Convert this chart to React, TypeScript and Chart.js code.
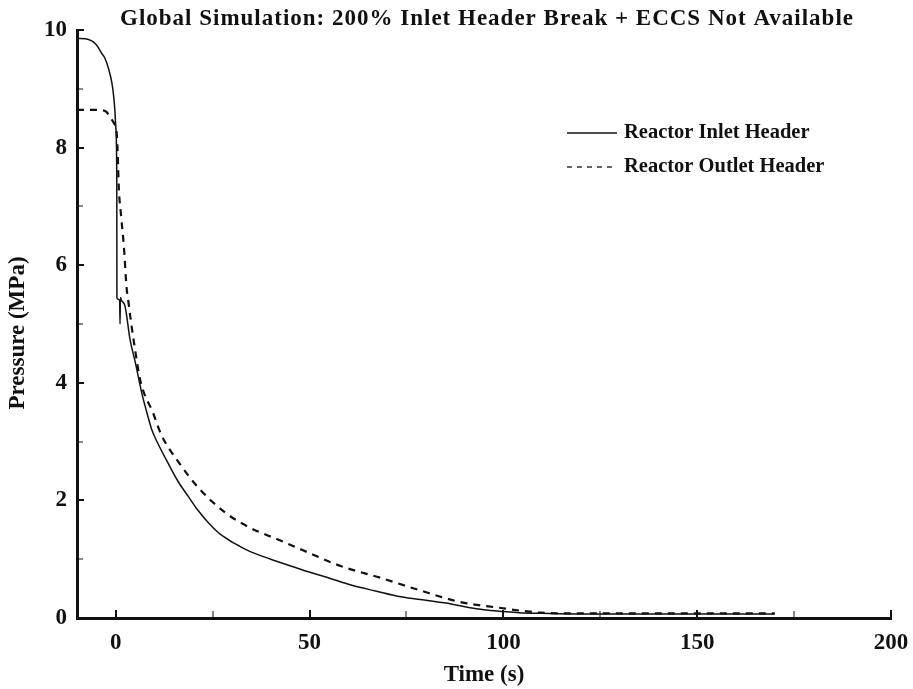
import React, { useEffect, useRef } from "react";
import { Chart, registerables } from "chart.js";

Chart.register(...registerables);

const chartTitle = "Global Simulation: 200% Inlet Header Break + ECCS Not Available";
const xAxisTitle = "Time (s)";
const yAxisTitle = "Pressure (MPa)";
const seriesNames = ["Reactor Inlet Header", "Reactor Outlet Header"];

const xTickValues = [0, 50, 100, 150, 200];
const xMinorTickValues = [25, 75, 125, 175];
const yTickValues = [0, 2, 4, 6, 8, 10];
const yMinorTickValues = [1, 3, 5, 7, 9];

const inletTime = [
  -10, -7, -5, -3.6, -2.8, -1.8, -1, -0.5, -0.2, 0, 0.26, 0.3, 0.6, 1.0, 1.1, 1.2, 1.5, 2.4, 3.7, 5,
  6.7, 8, 9.3, 11, 13.6, 16, 18.8, 21, 23.9, 26.5, 29.1, 32, 35, 40, 44, 48, 55, 60.7, 67, 73.6,
  80, 86.5, 91, 95, 100, 104, 110, 120, 140, 160, 170,
];
const inletPressure = [
  9.86, 9.84, 9.75, 9.6, 9.52, 9.33, 9.1, 8.85, 8.6, 8.35, 7.5, 5.45, 5.42, 5.4, 5.0, 5.45, 5.4, 5.3, 4.73, 4.36,
  3.83, 3.5, 3.2, 2.95, 2.62, 2.33, 2.06, 1.85, 1.62, 1.45, 1.33, 1.22, 1.12, 1.0, 0.91, 0.82, 0.68, 0.56, 0.46, 0.36,
  0.3, 0.24, 0.18, 0.14, 0.11, 0.09, 0.08, 0.07, 0.07, 0.07, 0.07,
];

const outletTime = [
  -10, -5, -3, -2.3, -1.5, -0.5, 0, 0.3, 0.5, 0.8, 1.36, 2.1, 2.8, 3.2, 3.7, 4.6, 6.3, 7.5, 9.3, 11.8,
  16.2, 21.4, 28.1, 34.2, 42, 48, 58.2, 68.5, 78, 89, 99.4, 105, 109.7, 115, 130, 150, 170,
];
const outletPressure = [
  8.64, 8.64, 8.63, 8.6, 8.52, 8.42, 8.35, 8.2, 7.9, 7.3, 6.85, 6.31, 5.61, 5.41, 5.15, 4.73, 4.05, 3.79, 3.54, 3.11,
  2.65, 2.21, 1.8, 1.55, 1.33, 1.16, 0.88, 0.68, 0.48, 0.27, 0.17, 0.12, 0.09, 0.08, 0.08, 0.08, 0.08,
];

const FAMILY = '"Liberation Serif", "Times New Roman", serif';
const INK = "#111111";

const axisTicksPlugin = {
  id: "axisTicks",
  afterDatasetsDraw(chart: any) {
    const { ctx, chartArea } = chart;
    const x = chart.scales.x;
    const y = chart.scales.y;
    ctx.save();
    ctx.strokeStyle = INK;
    const drawX = (vals: number[], len: number, w: number) => {
      ctx.lineWidth = w;
      vals.forEach((v) => {
        const px = Math.round(x.getPixelForValue(v));
        ctx.beginPath();
        ctx.moveTo(px, chartArea.bottom);
        ctx.lineTo(px, chartArea.bottom - len);
        ctx.stroke();
      });
    };
    const drawY = (vals: number[], len: number, w: number) => {
      ctx.lineWidth = w;
      vals.forEach((v) => {
        const py = Math.round(y.getPixelForValue(v));
        ctx.beginPath();
        ctx.moveTo(chartArea.left, py);
        ctx.lineTo(chartArea.left + len, py);
        ctx.stroke();
      });
    };
    drawX(xTickValues, 8, 2);
    drawX(xMinorTickValues, 7, 1);
    drawY(yTickValues, 7, 2);
    drawY(yMinorTickValues, 6, 1);
    ctx.restore();
  },
};

const titleLegendPlugin = {
  id: "titleLegend",
  afterDraw(chart: any) {
    const { ctx, chartArea } = chart;
    ctx.save();
    ctx.fillStyle = INK;
    ctx.font = `bold 23px ${FAMILY}`;
    (ctx as any).letterSpacing = "1px";
    ctx.textAlign = "center";
    ctx.textBaseline = "alphabetic";
    ctx.fillText(chartTitle, 487, 25);
    (ctx as any).letterSpacing = "0px";

    // y axis title
    ctx.save();
    ctx.translate(18, (chartArea.top + chartArea.bottom) / 2 + 9);
    ctx.rotate(-Math.PI / 2);
    ctx.textAlign = "center";
    ctx.textBaseline = "middle";
    ctx.font = `bold 23px ${FAMILY}`;
    ctx.fillText(yAxisTitle, 0, 0);
    ctx.restore();

    const rows = [133, 167];
    chart.data.datasets.forEach((ds: any, i: number) => {
      const yy = rows[i];
      ctx.strokeStyle = INK;
      ctx.lineWidth = 1.3;
      ctx.setLineDash(i === 0 ? [] : [5, 5]);
      ctx.beginPath();
      ctx.moveTo(567, yy);
      ctx.lineTo(617, yy);
      ctx.stroke();
      ctx.setLineDash([]);
      ctx.font = `bold 20.5px ${FAMILY}`;
      ctx.textAlign = "left";
      ctx.textBaseline = "middle";
      ctx.fillText(ds.label, 624, yy);
    });
    ctx.restore();
  },
};

export default function App() {
  const canvasRef = useRef<HTMLCanvasElement | null>(null);

  useEffect(() => {
    if (!canvasRef.current) return;
    document.body.style.margin = "0";
    const chart = new Chart(canvasRef.current, {
      type: "line",
      data: {
        datasets: [
          {
            label: seriesNames[0],
            data: inletTime.map((t, i) => ({ x: t, y: inletPressure[i] })),
            borderColor: INK,
            borderWidth: 1.5,
            pointRadius: 0,
            fill: false,
            cubicInterpolationMode: "monotone",
          },
          {
            label: seriesNames[1],
            data: outletTime.map((t, i) => ({ x: t, y: outletPressure[i] })),
            borderColor: INK,
            borderWidth: 2.2,
            borderDash: [7, 6],
            pointRadius: 0,
            fill: false,
            cubicInterpolationMode: "monotone",
          },
        ],
      },
      options: {
        animation: false,
        responsive: false,
        devicePixelRatio: 1,
        layout: { padding: { top: 30, right: 22, left: 0, bottom: 0 } },
        plugins: {
          legend: { display: false },
          title: { display: false },
          tooltip: { enabled: false },
        },
        scales: {
          x: {
            type: "linear",
            min: -10,
            max: 200,
            afterBuildTicks: (s: any) => {
              s.ticks = xTickValues.map((value) => ({ value }));
            },
            afterFit: (s: any) => {
              s.height = 71;
              s.paddingRight = 0;
              s.paddingLeft = 0;
            },
            grid: { display: false, drawTicks: false },
            border: { display: true, color: INK, width: 3 },
            ticks: {
              color: INK,
              padding: 11,
              maxRotation: 0,
              autoSkip: false,
              font: { family: FAMILY, size: 23, weight: "bold" },
            },
            title: {
              display: true,
              text: xAxisTitle,
              color: INK,
              font: { family: FAMILY, size: 23, weight: "bold", lineHeight: 1 },
              padding: { top: 0, bottom: 2 },
            },
          },
          y: {
            type: "linear",
            min: 0,
            max: 10,
            afterBuildTicks: (s: any) => {
              s.ticks = yTickValues.map((value) => ({ value }));
            },
            afterFit: (s: any) => {
              s.width = 77;
              s.paddingTop = 0;
              s.paddingBottom = 0;
            },
            grid: { display: false, drawTicks: false },
            border: { display: true, color: INK, width: 3 },
            ticks: {
              color: INK,
              padding: 10,
              autoSkip: false,
              font: { family: FAMILY, size: 23, weight: "bold" },
            },
            title: { display: false },
          },
        },
      },
      plugins: [axisTicksPlugin, titleLegendPlugin],
    } as any);
    return () => chart.destroy();
  }, []);

  return (
    <div style={{ position: "fixed", left: 0, top: 0, width: 913, height: 689, background: "#fff" }}>
      <canvas ref={canvasRef} width={913} height={689} style={{ display: "block", width: 913, height: 689 }} />
    </div>
  );
}
